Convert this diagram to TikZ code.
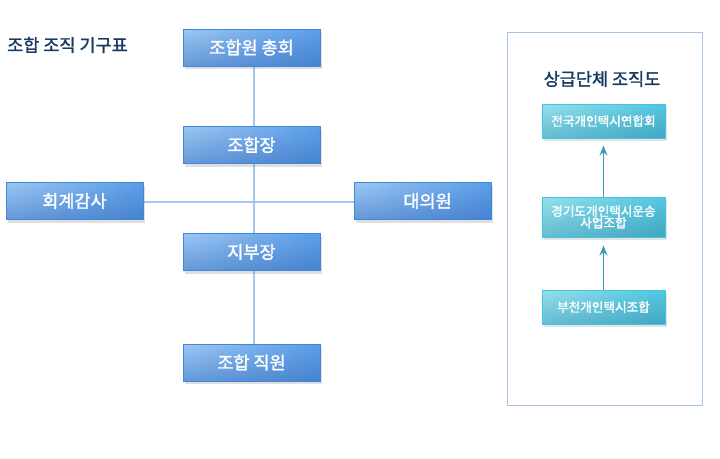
\documentclass[tikz,border=0pt]{standalone}
\usepackage{fontspec}
\setmainfont{Noto Sans CJK KR}
\newfontfamily\medfont[FakeBold=1.6]{Noto Sans CJK KR}
\usetikzlibrary{shadows,shadings,arrows.meta,backgrounds}
\definecolor{navy}{HTML}{173A62}
\definecolor{bline}{HTML}{A3C7EE}
\definecolor{bborder}{HTML}{3F86DC}
\definecolor{cborder}{HTML}{3FC6E2}
\definecolor{carrow}{HTML}{3A9BB5}
\definecolor{panel}{HTML}{A9C4E0}
\definecolor{bul}{HTML}{9CC6F2}
\definecolor{bur}{HTML}{5A9EE8}
\definecolor{bll}{HTML}{6699D8}
\definecolor{blr}{HTML}{4682CE}
\definecolor{cul}{HTML}{96DFEC}
\definecolor{cur}{HTML}{50C8E0}
\definecolor{cll}{HTML}{66BDD2}
\definecolor{clr}{HTML}{42A6C1}
\tikzset{
  bluebox/.style={draw=bborder, line width=1pt, minimum width=137pt, minimum height=37pt,
    inner sep=0pt, text=white, font=\medfont\fontsize{17.5}{19}\selectfont,
    upper left=bul, upper right=bur, lower left=bll, lower right=blr,
    drop shadow={shadow xshift=2pt, shadow yshift=-3pt, opacity=0.25}},
  cyanbox/.style={draw=cborder, line width=1pt, minimum width=123pt, minimum height=34pt,
    inner sep=0pt, text=white, align=center, font=\medfont\fontsize{12.6}{13.5}\selectfont,
    upper left=cul, upper right=cur, lower left=cll, lower right=clr,
    drop shadow={shadow xshift=2pt, shadow yshift=-3pt, opacity=0.22}},
  conn/.style={draw=bline, line width=2pt},
  uparrow/.style={draw=carrow, line width=1.4pt, -{Stealth[length=10pt,width=8pt]}},
  ttl/.style={text=navy, inner sep=0pt, font=\medfont\fontsize{17.5}{19}\selectfont}
}
\begin{document}
\begin{tikzpicture}[x=1pt,y=-1pt]
\useasboundingbox (0,0) rectangle (720,458);
% title
\node[ttl, anchor=west] (title) at (7,45) {조합 조직 기구표};
% blue boxes
\node[bluebox] (top) at (251.5,47.5) {조합원 총회};
\node[bluebox] (jang) at (251.5,145) {조합장};
\node[bluebox] (hoegye) at (74.5,201) {회계감사};
\node[bluebox] (daeui) at (422.5,201) {\hspace*{10pt}대의원};
\node[bluebox] (jibu) at (251.5,252) {지부장};
\node[bluebox] (jigwon) at (251.5,362.5) {조합 직원};
\begin{scope}[on background layer]
\draw[conn] ([xshift=2pt]top.south) -- ([xshift=2pt]jigwon.north);
\draw[conn] ([yshift=-1pt]hoegye.east) -- ([yshift=-1pt]daeui.west);
\end{scope}
% right panel
\draw[draw=panel, line width=1pt] (507,32) rectangle (702,405);
\node[ttl] (ptitle) at (602,79) {상급단체 조직도};
\node[cyanbox] (c1) at (603.5,121) {전국개인택시연합회};
\node[cyanbox, minimum height=40pt] (c2) at (603.5,217) {경기도개인택시운송\\[-2pt]사업조합};
\node[cyanbox] (c3) at (603.5,307) {부천개인택시조합};
\draw[uparrow, shorten >=7pt] (c2.north) -- (c1.south);
\draw[uparrow, shorten >=8pt] (c3.north) -- (c2.south);
\end{tikzpicture}
\end{document}
